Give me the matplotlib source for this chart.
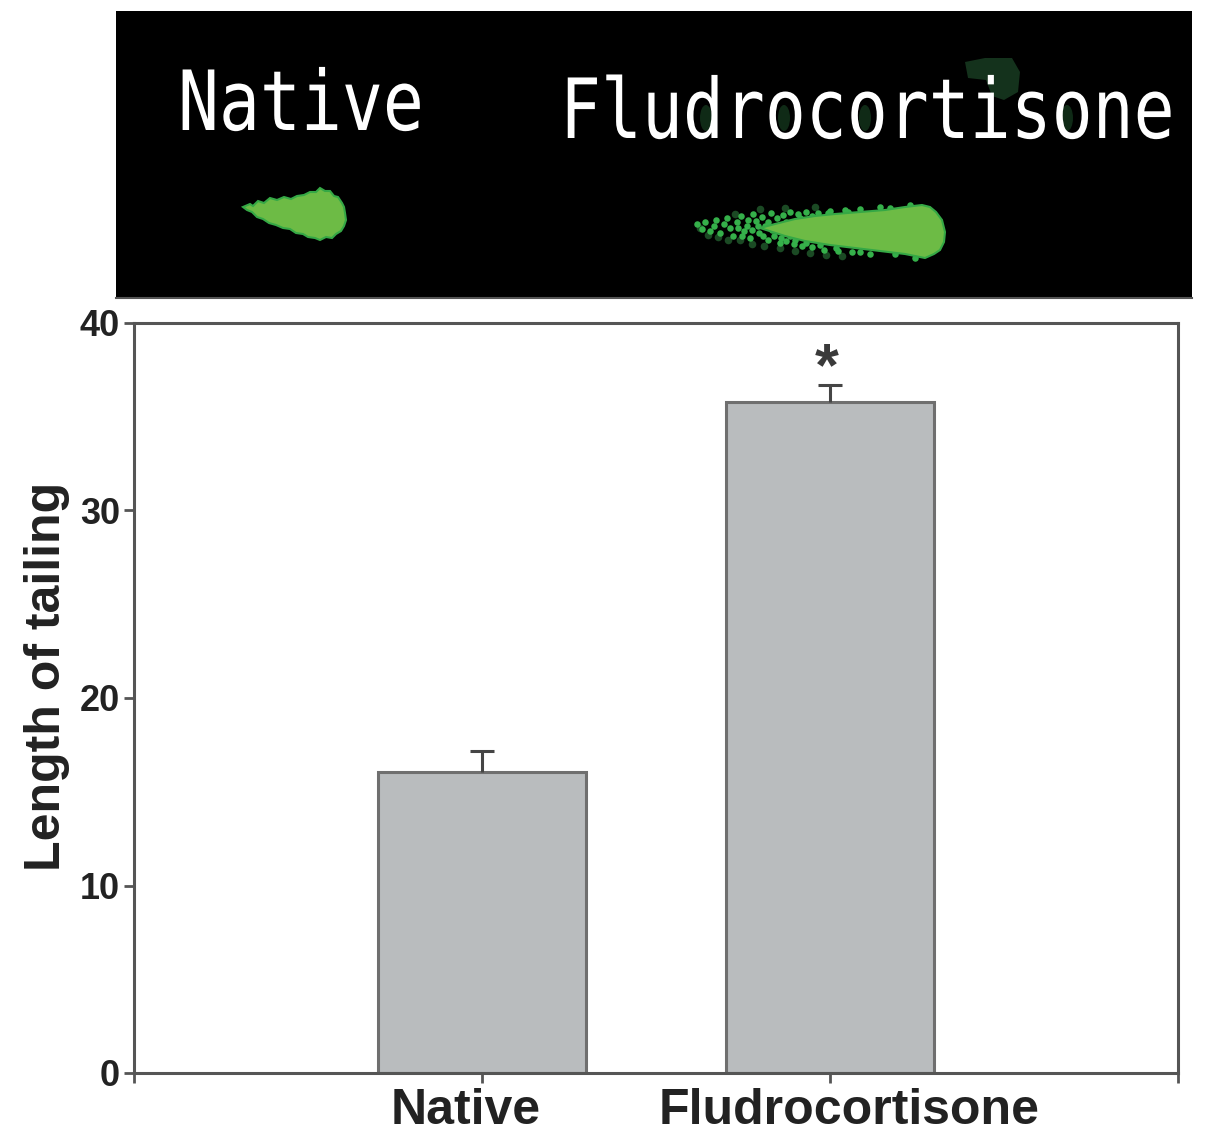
import matplotlib
matplotlib.use("Agg")
import matplotlib.pyplot as plt
from matplotlib.patches import Polygon, Ellipse
from matplotlib.patheffects import AbstractPathEffect
from matplotlib.transforms import Affine2D, ScaledTranslation

# ---- data ----
categories = ["Native", "Fludrocortisone"]
values = [16.05, 35.8]
errors = [1.1, 0.9]
y_ticks = [0, 10, 20, 30, 40]
y_label = "Length of tailing"
star = "*"
photo_labels = ["Native", "Fludrocortisone"]

# comet outlines in the photograph, in its pixel coordinates
native_comet = [(243,207),(250,204),(253,206),(258,201),(264,203),(270,198),(277,200),(284,197),(291,199),
                (297,196),(304,195),(310,192),(316,192),(320,188),(325,191),(330,191),(334,196),
                (338,197),(342,203),(344,207),(345,213),(346,220),(344,226),(341,231),(336,234),(332,238),(326,237),
                (320,240),(315,238),(308,237),(303,234),(296,233),(290,229),(283,228),(276,225),(269,223),(263,219),
                (257,217),(252,212),(247,210)]
fludro_body = [(760,228),(775,224),(795,219),(815,216),(835,214),(860,212),(885,210),(905,207),(922,205),
               (930,207),(936,212),(942,220),(945,232),(944,242),(940,250),(934,254),(925,258),(915,256),(905,254),(880,251),
               (855,248),(830,245),(805,241),(785,236)]
fludro_tail_bright = [(697,224),(702,229),(705,222),(710,231),(714,226),(716,220),(720,233),(724,224),
                      (727,218),(730,228),(733,236),(737,222),(741,216),(744,231),(747,226),(750,238),
                      (753,214),(756,221),(759,233),(762,217),(765,226),(768,240),(771,213),(774,236),
                      (777,218),(780,243),(783,215),(786,241),(790,212),(794,244),(798,214),(802,246),
                      (806,212),(812,247),(818,213),(824,250),(830,211),(838,251),(845,210),(852,252),
                      (860,209),(870,254),(880,207),(738,228),(742,236),(748,220),(752,230),(758,226),
                      (763,236),(768,222),(772,230),(776,226),(781,238),(786,222),(790,236),(795,240),
                      (800,218),(806,243),(812,216),(820,245),(828,213),(836,248),(848,212),(860,252),
                      (890,208),(895,254),(910,205),(915,258)]
fludro_tail_dark = [(700,228),(708,235),(718,237),(728,240),(740,240),(752,244),(764,246),(780,248),
                    (795,251),(810,253),(826,255),(842,256),(735,214),(760,209),(785,208),(815,207)]
smudge = [(965,62),(985,58),(1012,58),(1020,72),(1018,92),(1004,100),(992,96),(986,80),(968,78)]
letter_fills = [(706,118),(784,118),(865,118),(1067,118)]

# ---- figure ----
W, H = 1205, 1144
fig = plt.figure(figsize=(W / 100, H / 100), dpi=100, facecolor="white")


def axes_px(l, t, r, b):
    return fig.add_axes([l / W, 1 - b / H, (r - l) / W, (b - t) / H])


class StretchY(AbstractPathEffect):
    """Stretch glyphs vertically about their baseline (photo lettering is narrow)."""

    def __init__(self, s):
        super().__init__()
        self.s = s

    def draw_path(self, renderer, gc, tpath, affine, rgbFace=None):
        y0 = affine.transform((0, 0))[1]
        a = affine + Affine2D().translate(0, -y0).scale(1, self.s).translate(0, y0)
        renderer.draw_path(gc, tpath, a, rgbFace)


# photograph panel
im = axes_px(116, 11, 1192, 298)
im.set_facecolor("black")
im.set_xlim(116, 1192)
im.set_ylim(298, 11)
im.set_xticks([])
im.set_yticks([])
for s in im.spines.values():
    s.set_visible(False)
im.spines["bottom"].set_visible(True)
im.spines["bottom"].set_color("#555555")
im.spines["bottom"].set_linewidth(1.5)

GREEN = "#6dbb45"
im.add_patch(Polygon(smudge, closed=True, fc="#14321c", ec="none"))
for (x, y) in letter_fills:
    im.add_patch(Ellipse((x, y), 12, 26, fc="#0f2a16", ec="none"))
im.add_patch(Polygon(native_comet, closed=True, fc=GREEN, ec="#35a845", lw=1.5))
im.scatter(*zip(*fludro_tail_dark), s=30, c="#1b4a24", linewidths=0)
im.scatter(*zip(*fludro_tail_bright), s=22, c="#35b04a", linewidths=0)
im.add_patch(Polygon(fludro_body, closed=True, fc=GREEN, ec="#35a845", lw=1.5, zorder=3))

for label, x, y in zip(photo_labels, [178, 560], [130, 138]):
    im.text(x, y, label, color="white", family="DejaVu Sans Mono", fontsize=49,
            va="baseline", ha="left", path_effects=[StretchY(1.22)])

# bar chart panel
ax = axes_px(134, 323, 1178, 1073)
x_pos = [1, 2]
ax.bar(x_pos, values, width=0.6, color="#b9bcbe", edgecolor="#6f6f6f", linewidth=2.2, zorder=2)
_, caps, _ = ax.errorbar(x_pos, values, yerr=[[0, 0], errors], fmt="none", ecolor="#454545",
                         elinewidth=2.2, capsize=8.5, capthick=2.2, zorder=3)
caps[0].set_visible(False)
ax.set_xlim(0, 3)
ax.set_ylim(0, 40)
ax.set_yticks(y_ticks)
ax.set_xticks([0, 1, 2, 3])
ax.set_xticklabels([""] + categories + [""])
for s in ax.spines.values():
    s.set_color("#555555")
    s.set_linewidth(2.2)
ax.tick_params(axis="y", length=7, width=2, color="#555555", pad=3,
               labelsize=26, labelcolor="#222222")
ax.tick_params(axis="x", length=7, width=2, color="#555555", pad=4,
               labelsize=36, labelcolor="#222222")
for t in ax.get_yticklabels() + ax.get_xticklabels():
    t.set_family("Liberation Sans")
    t.set_fontweight("bold")
offsets = [0, -16, 19, 0]
for t, dx in zip(ax.get_xticklabels(), offsets):
    t.set_transform(t.get_transform() + ScaledTranslation(dx / 100, 0, fig.dpi_scale_trans))

fig.text(47 / W, 1 - 676 / H, y_label, rotation=90, ha="center", va="center",
         family="Liberation Sans", fontweight="bold", fontsize=36, color="#222222")
ax.annotate(star, xy=(x_pos[1], values[1] + errors[1]), xytext=(-3, 15), textcoords="offset pixels",
            ha="center", va="center", family="Liberation Sans", fontweight="bold", fontsize=44, color="#3a3a3a")

fig.savefig("out.png", dpi=100)
